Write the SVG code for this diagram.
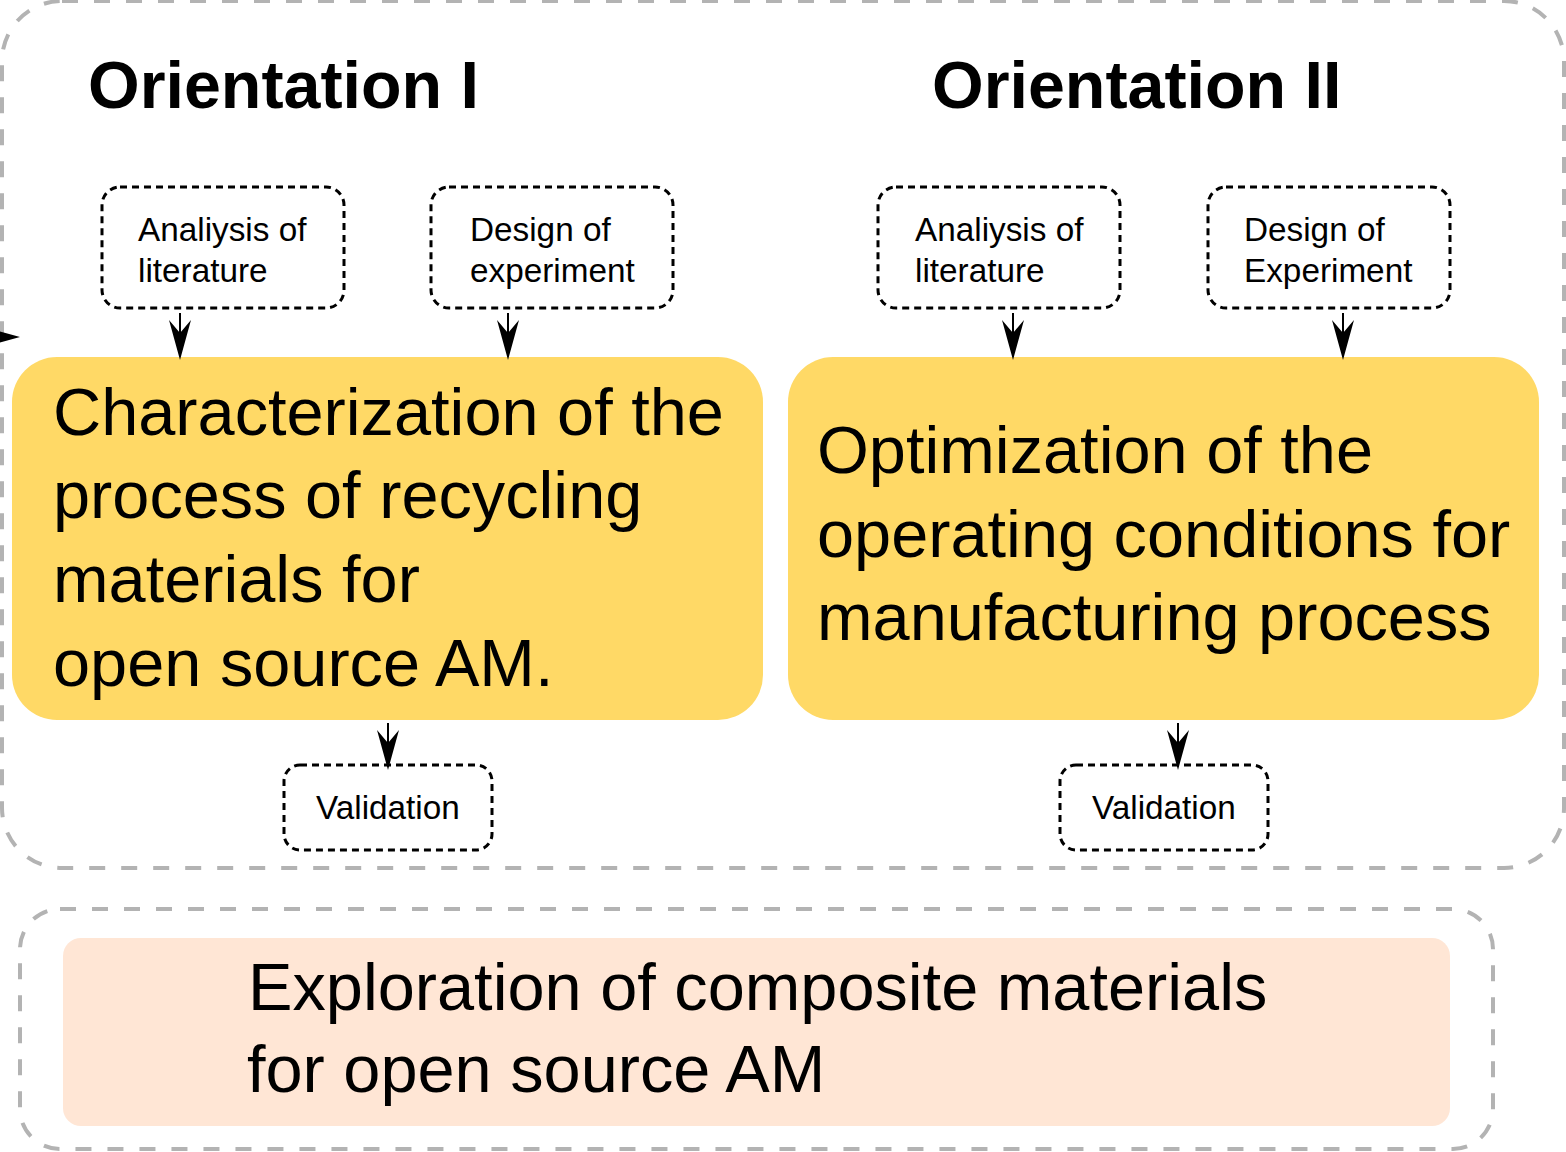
<svg xmlns="http://www.w3.org/2000/svg" width="1566" height="1152" viewBox="0 0 1566 1152">
<style>
.grp{fill:none;stroke:#b3b3b3;stroke-width:4;stroke-dasharray:16 16}
.sm{fill:#ffffff;stroke:#000000;stroke-width:3;stroke-dasharray:7 5}
.yel{fill:#FFD966;stroke:none}
.peach{fill:#FFE6D5;stroke:none}
.t{font-family:"Liberation Sans",Arial,sans-serif;fill:#000000}
.title{font-size:66.4px;font-weight:bold}
.big{font-size:66.7px}
.small{font-size:33.3px}
.edge{fill:none;stroke:#000000;stroke-width:2}
</style>
<defs>
<marker id="arr" markerUnits="userSpaceOnUse" viewBox="-20 -15 60 30" markerWidth="60" markerHeight="30" refX="0" refY="0" orient="auto" overflow="visible">
<path d="M27,0 L-13,-11 L0,0 L-13,11 Z" fill="#000000"/>
</marker>
</defs>
<g id="group-orientations">
<rect class="grp" x="2" y="1" width="1562" height="867" rx="60" ry="60"/>
</g>
<g id="group-composite">
<rect class="grp" x="20" y="909" width="1473" height="240" rx="40" ry="40"/>
</g>
<g id="title-1"><text class="t title" x="88" y="108">Orientation I</text></g>
<g id="title-2"><text class="t title" x="932" y="108">Orientation II</text></g>
<g id="lit-1">
<rect class="sm" x="102" y="187" width="242" height="121" rx="18" ry="18"/>
<text class="t small" x="138" y="241">Analiysis of</text>
<text class="t small" x="138" y="282">literature</text>
</g>
<g id="doe-1">
<rect class="sm" x="431" y="187" width="242" height="121" rx="18" ry="18"/>
<text class="t small" x="470" y="241">Design of</text>
<text class="t small" x="470" y="282">experiment</text>
</g>
<g id="lit-2">
<rect class="sm" x="878" y="187" width="242" height="121" rx="18" ry="18"/>
<text class="t small" x="915" y="241">Analiysis of</text>
<text class="t small" x="915" y="282">literature</text>
</g>
<g id="doe-2">
<rect class="sm" x="1208" y="187" width="242" height="121" rx="18" ry="18"/>
<text class="t small" x="1244" y="241">Design of</text>
<text class="t small" x="1244" y="282">Experiment</text>
</g>
<g id="char">
<rect class="yel" x="12" y="357" width="751" height="363" rx="45" ry="45"/>
<text class="t big" x="53" y="435">Characterization of the</text>
<text class="t big" x="53" y="518">process of recycling</text>
<text class="t big" x="53" y="602">materials for</text>
<text class="t big" x="53" y="686">open source AM.</text>
</g>
<g id="optim">
<rect class="yel" x="788" y="357" width="751" height="363" rx="45" ry="45"/>
<text class="t big" x="817" y="473">Optimization of the</text>
<text class="t big" x="817" y="557">operating conditions for</text>
<text class="t big" x="817" y="640">manufacturing process</text>
</g>
<g id="val-1">
<rect class="sm" x="284" y="765" width="208" height="85" rx="16" ry="16"/>
<text class="t small" x="316" y="819">Validation</text>
</g>
<g id="val-2">
<rect class="sm" x="1060" y="765" width="208" height="85" rx="16" ry="16"/>
<text class="t small" x="1092" y="819">Validation</text>
</g>
<g id="explore">
<rect class="peach" x="63" y="938" width="1387" height="188" rx="18" ry="18"/>
<text class="t big" x="248" y="1010">Exploration of composite materials</text>
<text class="t big" x="247" y="1092">for open source AM</text>
</g>
<g id="connectors">
<path class="edge" d="M-60,337 L-7,337" marker-end="url(#arr)"/>
<path class="edge" d="M180,313 L180,333" marker-end="url(#arr)"/>
<path class="edge" d="M508,313 L508,333" marker-end="url(#arr)"/>
<path class="edge" d="M1013,313 L1013,333" marker-end="url(#arr)"/>
<path class="edge" d="M1343,313 L1343,333" marker-end="url(#arr)"/>
<path class="edge" d="M388,723 L388,743" marker-end="url(#arr)"/>
<path class="edge" d="M1178,723 L1178,743" marker-end="url(#arr)"/>
</g>
</svg>
